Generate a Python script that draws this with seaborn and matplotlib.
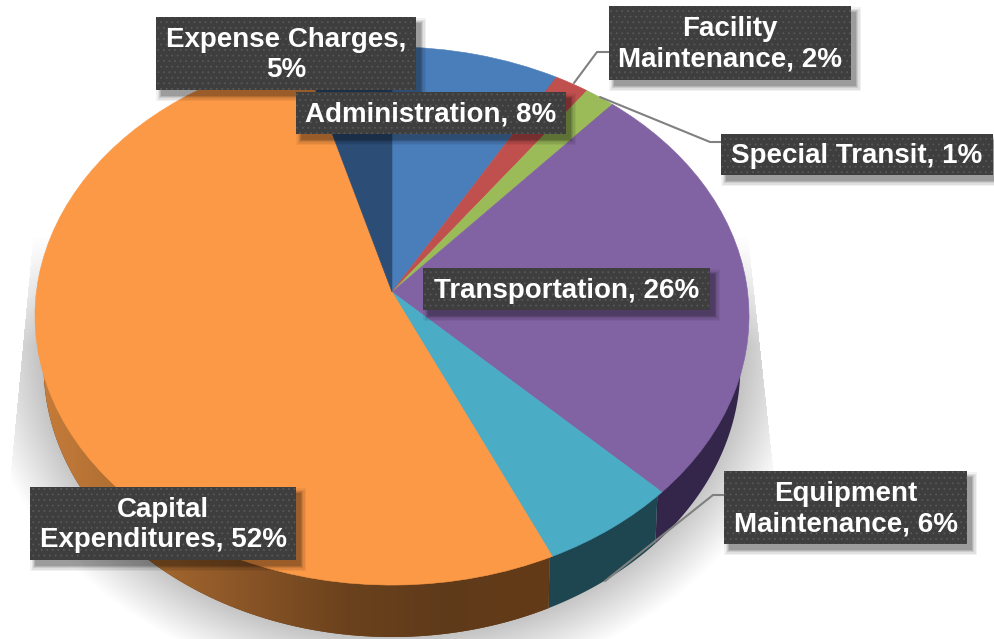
import numpy as np
import matplotlib
matplotlib.use("Agg")
import matplotlib.pyplot as plt
from matplotlib import transforms as mtransforms
from matplotlib.colors import LinearSegmentedColormap
from matplotlib.patches import Polygon, Rectangle
import seaborn as sns

categories = ["Administration", "Facility Maintenance", "Special Transit", "Transportation",
              "Equipment Maintenance", "Capital Expenditures", "Expense Charges"]
shares = [8.3, 1.7, 1.5, 25.9, 5.8, 52.4, 4.4]
label_texts = ["Administration, 8%", "Facility\nMaintenance, 2%", "Special Transit, 1%",
               "Transportation, 26%", "Equipment\nMaintenance, 6%",
               "Capital\nExpenditures, 52%", "Expense Charges,\n5%"]
top_colors = ["#4A7EBB", "#C0504D", "#9BBB59", "#8163A3", "#4BACC6", "#FC9947", "#2C4D75"]
wall_colors = ["#26405F", "#602825", "#4E5E2C", "#33264A", "#1E4650", "#643B18", "#16273A"]
wall_ramp = ["#C67C3A", "#A86A30", "#8A5527", "#6B421D", "#5F3A1A", "#643B18"]

# label boxes: x0, y0, x1, y1 in figure pixels
boxes = [(296, 92, 566, 134), (609, 6, 851, 80), (721, 134, 993, 175), (423, 268, 710, 310),
         (724, 471, 967, 544), (30, 487, 296, 560), (156, 17, 416, 90)]
leaders = [[(574, 83), (597, 52), (609, 52)],
           [(600, 97), (710, 142), (721, 142)],
           [(605, 581), (713, 495), (724, 495)]]

W, H = 994, 639
sns.set_theme(style="white")
plt.rcParams["font.family"] = ["Liberation Sans", "DejaVu Sans"]
plt.rcParams["hatch.linewidth"] = 0.6

fig = plt.figure(figsize=(W / 100, H / 100), dpi=100)
ax = fig.add_axes([0, 0, 1, 1])


class Tilt(mtransforms.Transform):
    """Perspective view of the unit-circle pie onto the figure's pixel grid."""
    input_dims = output_dims = 2
    is_separable = False
    has_inverse = False

    def __init__(self, a, b, cy, k=0.0892, cx=392):
        super().__init__()
        self.a, self.b, self.cy, self.k, self.cx = a, b, cy, k, cx

    def transform_non_affine(self, v):
        v = np.asarray(v, float)
        w = 1 + self.k * v[:, 1]
        return np.column_stack([self.cx + self.a * v[:, 0] / w, self.cy - self.b * v[:, 1] / w])


top_view = Tilt(355.6, 266.9, 292)
base_view = Tilt(347.0, 268.7, 342)

# soft ground shadow
yy, xx = np.mgrid[0:H, 0:W] + 0.5
r = np.hypot((xx - 392) / 352, (yy - 345) / 293)
fade = np.clip((1.18 - r) / 0.18, 0, 1)
fade *= np.clip((yy - 235) / 110, 0, 1)
fade *= (xx > 33 - (yy - 240) * 0.095) & (xx < 755 + (yy - 300) * 0.108)
shadow = np.zeros((H, W, 4))
shadow[..., :3] = 0.45
shadow[..., 3] = fade * 0.42
ax.imshow(shadow, extent=(0, W, H, 0), zorder=1, interpolation="bilinear")

palette = sns.color_palette(top_colors)
wedges, _ = ax.pie(shares, colors=palette, startangle=90, counterclock=False, radius=1)
ax.set_aspect("auto")
ax.set_xlim(0, W)
ax.set_ylim(H, 0)
ax.axis("off")

ramp = LinearSegmentedColormap.from_list("wall", wall_ramp)
for i, wedge in enumerate(wedges):
    th = np.radians(np.linspace(wedge.theta1, wedge.theta2, 160))
    unit = np.column_stack([np.cos(th), np.sin(th)])
    outline = np.vstack([top_view.transform(unit * 0.985), base_view.transform(unit)[::-1]])
    poly = Polygon(outline, closed=True, facecolor=wall_colors[i], edgecolor="none",
                   linewidth=0, zorder=2)
    ax.add_patch(poly)
    if categories[i] == "Capital Expenditures":
        grad = np.linspace(0, 1, 256)[None, :]
        im = ax.imshow(grad, cmap=ramp, extent=(40, 550, H, 0), zorder=2.5, aspect="auto")
        im.set_clip_path(poly)
    wedge.set_transform(top_view + ax.transData)
    wedge.set_edgecolor(palette[i])
    wedge.set_linewidth(0.4)
    wedge.set_zorder(3)
ax.set_xlim(0, W)
ax.set_ylim(H, 0)

for path in leaders:
    xs, ys = zip(*path)
    ax.plot(xs, ys, color="#808080", lw=1.5, zorder=4, solid_joinstyle="miter")

for (x0, y0, x1, y1), text in zip(boxes, label_texts):
    for g, alpha in zip((5, 3.5, 2, 1, 0), (0.05, 0.07, 0.09, 0.11, 0.13)):
        ax.add_patch(Rectangle((x0 + 5 - g, y0 + 6 - g), x1 - x0 + 2 * g, y1 - y0 + 2 * g,
                               facecolor="black", edgecolor="none", alpha=alpha, zorder=5))
    ax.add_patch(Rectangle((x0, y0), x1 - x0, y1 - y0, facecolor="#3E3E3E", edgecolor="#585858",
                           linewidth=0, hatch="...", zorder=6))
    ax.text((x0 + x1) / 2, (y0 + y1) / 2 + 1.5, text, ha="center", va="center", color="white",
            fontsize=20, fontweight="bold", linespacing=1.24, zorder=7)

fig.savefig("out.png", dpi=100)
